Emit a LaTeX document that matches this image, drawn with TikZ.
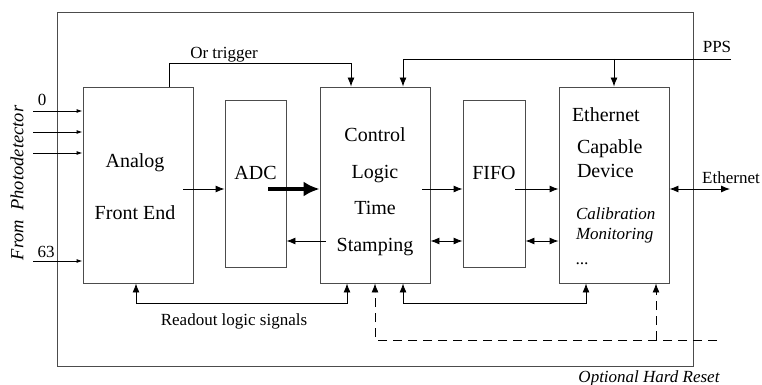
\documentclass[tikz,border=0pt]{standalone}
\usepackage{fontspec}
\setmainfont{LiberationSerif}[Extension=.ttf, UprightFont=*-Regular, BoldFont=*-Bold, ItalicFont=*-Italic, BoldItalicFont=*-BoldItalic]
\usetikzlibrary{arrows.meta}

\begin{document}
\begin{tikzpicture}
  [x=1pt, y=-1pt, line width=0.9pt,
  font=\fontsize{20}{24}\selectfont,
  blk/.style={draw=black!70, minimum width=110pt, minimum height=196pt, inner sep=0pt},
  slim/.style={blk, minimum width=61pt, minimum height=167pt},
  txt/.style={inner sep=0pt, align=center},
  lbl/.style={inner sep=0pt, font=\fontsize{17}{20}\selectfont},
  ital/.style={lbl, font=\fontsize{17}{20}\selectfont\itshape},
  arr/.style={-{Latex[length=9pt,width=7pt]}},
  dbl/.style={{Latex[length=9pt,width=7pt]}-{Latex[length=9pt,width=7pt]}},
  tiny/.style={-{Latex[length=6pt,width=4pt]}},
  bus/.style={line width=3.5pt, -{Latex[length=16pt,width=15pt]}},
  rst/.style={dash pattern=on 9pt off 6pt}]
  \useasboundingbox (0,0) rectangle (762,385);
  \node[draw=black!70, minimum width=636pt, minimum height=354pt, inner sep=0pt] (sys) at (375,189) {};

  \node[blk, label={[txt, xshift=-3pt, yshift=-2pt]center:Analog\\[28pt]Front End}] (afe) at (138,185) {};
  \node[slim, label={[txt, yshift=11pt]center:ADC}] (adc) at (255.5,183.5) {};
  \node[blk, label={[txt, yshift=-6.5pt]center:Control\\[12.5pt]Logic\\[12.5pt]Time\\[12.5pt]Stamping}] (ctl) at (375,185) {};
  \node[slim, minimum width=62pt, label={[txt, yshift=11pt]center:FIFO}] (fifo) at (494,183.5) {};
  \node[blk,
    label={[txt, align=left, anchor=north west, xshift=13pt, yshift=-20.5pt]north west:Ethernet\\[8pt]\hspace*{5pt}Capable\\\hspace*{5pt}Device},
    label={[ital, align=left, anchor=north west, xshift=17pt, yshift=-121pt]north west:Calibration\\Monitoring\\[5pt]...}] (eth) at (614,185) {};

  % rows of the data path
  \coordinate (r1) at (0,189);
  \coordinate (r2) at (0,241);
  \coordinate (ethout) at (730,189);
  \coordinate (pps) at (731,59);
  \coordinate (reset) at (717,340);

  \foreach \y [count=\i] in {111,132,153,261} {
    \coordinate (in\i) at (33,\y);
    \draw[tiny] (in\i) -- (afe.west |- in\i);
  }
  \draw[arr] ([xshift=-10pt]afe.east |- r1) -- (adc.west |- r1);
  \draw[bus] ([xshift=-18pt]adc.east |- r1) -- (ctl.west |- r1);
  \draw[arr] ([xshift=6pt]ctl.west |- r2) -- (adc.east |- r2);
  \draw[arr] ([xshift=-8pt]ctl.east |- r1) -- (fifo.west |- r1);
  \draw[arr] ([xshift=-10pt]fifo.east |- r1) -- (eth.west |- r1);
  \draw[dbl] (eth.east |- r1) -- (ethout);
  \draw[dbl] (ctl.east |- r2) -- (fifo.west |- r2);
  \draw[dbl] (fifo.east |- r2) -- (eth.west |- r2);

  \draw[arr] ([xshift=31pt]afe.north) -- ++(0,-23) -| ([xshift=-24pt]ctl.north);
  \draw[arr] (pps) -| ([xshift=28pt]ctl.north);
  \draw[arr] (eth.north |- pps) -- (eth.north);
  \draw[dbl] ([xshift=-2pt]afe.south) -- ++(0,20) -| ([xshift=-28pt]ctl.south);
  \draw[dbl] ([xshift=28pt]ctl.south) -- ++(0,20) -| ([xshift=-28pt]eth.south);
  \draw[rst, arr] (reset) -| (ctl.south);
  \draw[rst, arr] ([xshift=42pt]eth.south |- reset) -- ([xshift=42pt]eth.south);

  \node[lbl, anchor=base] (trig) at (224,59) {Or trigger};
  \node[lbl, anchor=base] (ppslbl) at (717,53) {PPS};
  \node[lbl, anchor=base] (ch0) at (42,106) {0};
  \node[lbl, anchor=base] (ch63) at (46,257) {63};
  \node[lbl, anchor=base] (ethlbl) at (731,183) {Ethernet};
  \node[lbl, anchor=base] (readout) at (234,325) {Readout logic signals};
  \node[ital, anchor=base] (hard) at (649,382) {Optional Hard Reset};
  \node[ital, rotate=90, font=\fontsize{18.5}{22}\selectfont\itshape] (photo) at (17,183) {From\ \ Photodetector};
\end{tikzpicture}
\end{document}
